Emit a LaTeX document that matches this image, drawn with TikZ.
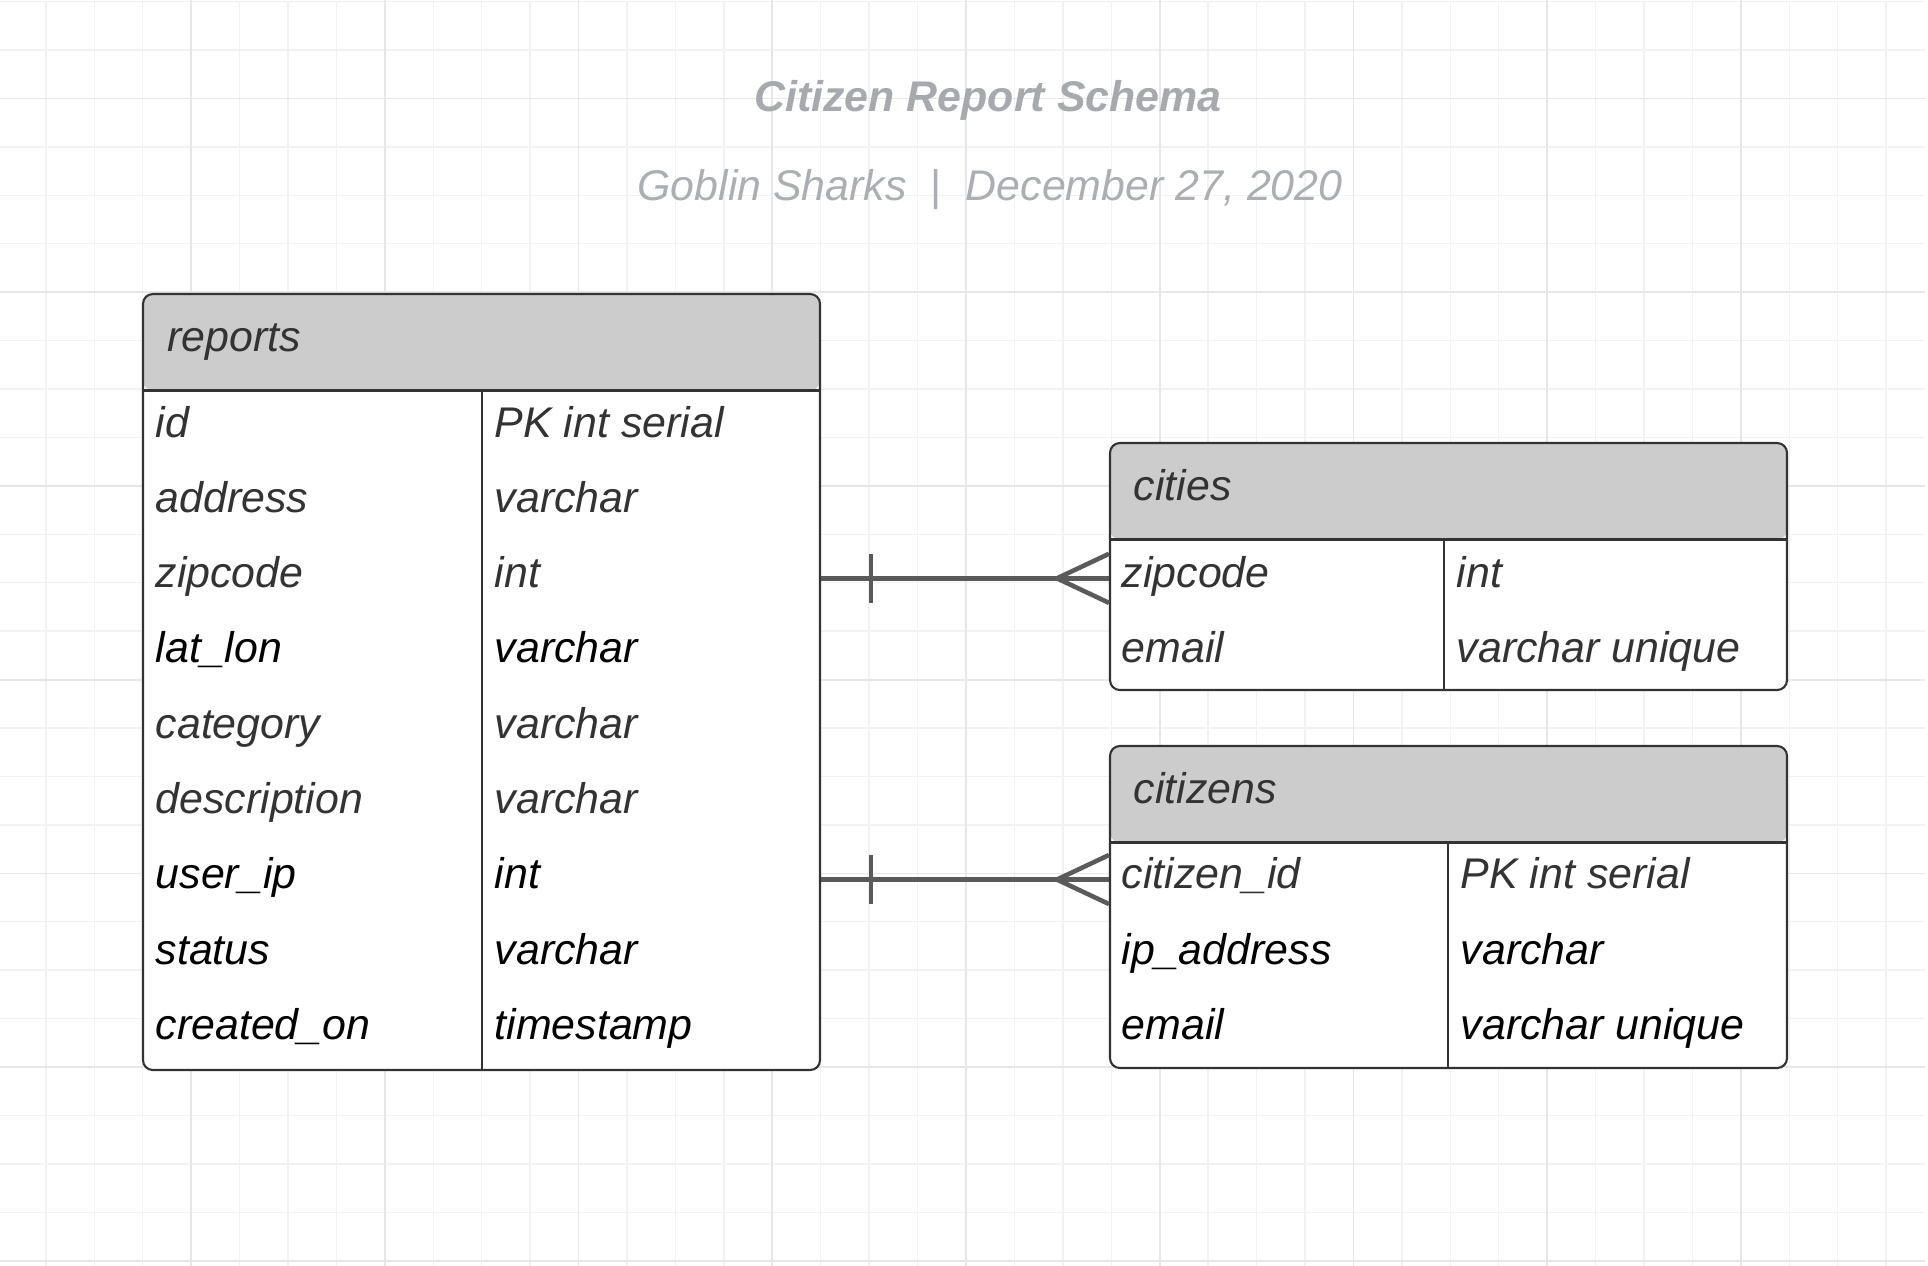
\documentclass[tikz,border=0pt]{standalone}
\usepackage{fontspec}
\setmainfont{Liberation Sans}
\usetikzlibrary{fit,calc}
\definecolor{gridminor}{HTML}{F2F2F2}
\definecolor{gridmajor}{HTML}{E7E7E7}
\definecolor{titlegray}{HTML}{A6A9AE}
\definecolor{subgray}{HTML}{ABAEB3}
\definecolor{hdrgray}{HTML}{CCCCCC}
\definecolor{tblline}{HTML}{333333}
\definecolor{txtgray}{HTML}{333333}
\definecolor{relgray}{HTML}{5A5A5A}

\begin{document}
\begin{tikzpicture}[x=0.01cm,y=-0.01cm,
  tabletext/.style={font=\fontsize{12.2}{14.6}\selectfont\itshape,inner sep=0pt,anchor=base west},
  fieldname/.style={tabletext,text=txtgray},
  fielddark/.style={tabletext,text=black},
  tablename/.style={tabletext,text=txtgray},
  tableframe/.style={draw=tblline,line width=0.6pt,rounded corners=2.8pt,fill=white,inner sep=0pt,
    path picture={\fill[hdrgray] (path picture bounding box.north west) rectangle ++(677,96.5);}},
  tblrule/.style={draw=tblline,line width=0.6pt},
  relline/.style={draw=relgray,line width=1.3pt}]
\useasboundingbox (0,0) rectangle (1928,1265);
            % Grid
\draw[gridminor,line width=0.4pt,step=0.484cm,shift={(-2.6,1.6)}] (0,1265) grid (1928,0);
\draw[gridmajor,line width=0.5pt,step=1.936cm,shift={(-2.6,98.5)}] (0,1265) grid (1928,-100);
            % Heading
\node[font=\fontsize{12.2}{14.6}\selectfont\bfseries\itshape,text=titlegray,anchor=base] (title) at (988,111.5) {Citizen Report Schema};
\node[font=\fontsize{12.2}{14.6}\selectfont\itshape,text=subgray,anchor=base] (subtitle) at (990,200.5) {Goblin Sharks~~{\upshape|}~~December 27, 2020};
            % Tables
\node[tableframe,fit={(143,294) (820,1070)}] (reports) {};
\draw[tblrule] (143,390.5) -- (820,390.5);
\draw[tblrule] (482,390.5) -- (482,1070);
\node[tableframe,fit={(1110,443) (1787,690)}] (cities) {};
\draw[tblrule] (1110,539.5) -- (1787,539.5);
\draw[tblrule] (1444,539.5) -- (1444,690);
\node[tableframe,fit={(1110,746) (1787,1068)}] (citizens) {};
\draw[tblrule] (1110,842.5) -- (1787,842.5);
\draw[tblrule] (1448,842.5) -- (1448,1068);
            % reports
\node[tablename] (rep-title) at (167,351) {reports};
\node[fieldname] (rep-id)          at (155,437.0)  {id};
\node[fieldname] (rep-id-t)        at (494,437.0)  {PK int serial};
\node[fieldname] (rep-address)     at (155,512.3)  {address};
\node[fieldname] (rep-address-t)   at (494,512.3)  {varchar};
\node[fieldname] (rep-zipcode)     at (155,587.6)  {zipcode};
\node[fieldname] (rep-zipcode-t)   at (494,587.6)  {int};
\node[fielddark] (rep-latlon)      at (155,662.9)  {lat\_lon};
\node[fielddark] (rep-latlon-t)    at (494,662.9)  {varchar};
\node[fieldname] (rep-category)    at (155,738.2)  {category};
\node[fieldname] (rep-category-t)  at (494,738.2)  {varchar};
\node[fieldname] (rep-descr)       at (155,813.5)  {description};
\node[fieldname] (rep-descr-t)     at (494,813.5)  {varchar};
\node[fielddark] (rep-userip)      at (155,888.8)  {user\_ip};
\node[fielddark] (rep-userip-t)    at (494,888.8)  {int};
\node[fielddark] (rep-status)      at (155,964.1)  {status};
\node[fielddark] (rep-status-t)    at (494,964.1)  {varchar};
\node[fielddark] (rep-created)     at (155,1039.4) {created\_on};
\node[fielddark] (rep-created-t)   at (494,1039.4) {timestamp};
            % cities
\node[tablename] (cty-title) at (1133,500) {cities};
\node[fieldname] (cty-zipcode)     at (1121,587.6) {zipcode};
\node[fieldname] (cty-zipcode-t)   at (1456,587.6) {int};
\node[fieldname] (cty-email)       at (1121,662.9) {email};
\node[fieldname] (cty-email-t)     at (1456,662.9) {varchar unique};
            % citizens
\node[tablename] (cit-title) at (1133,803) {citizens};
\node[fieldname] (cit-id)          at (1121,888.8)  {citizen\_id};
\node[fieldname] (cit-id-t)        at (1460,888.8)  {PK int serial};
\node[fielddark] (cit-ipaddr)      at (1121,964.1)  {ip\_address};
\node[fielddark] (cit-ipaddr-t)    at (1460,964.1)  {varchar};
\node[fielddark] (cit-email)       at (1121,1039.4) {email};
\node[fielddark] (cit-email-t)     at (1460,1039.4) {varchar unique};
            % Relations (one -- many)
\draw[relline] (rep-zipcode.mid -| reports.east) -- (cty-zipcode.mid -| cities.west);
\draw[relline] (rep-zipcode.mid -| reports.east) ++(50,-24.5) -- ++(0,49);
\draw[relline] (cty-zipcode.mid -| cities.west) ++(-52,0) -- ++(52,-24.5) ++(-52,24.5) -- ++(52,24.5);
\draw[relline] (rep-userip.mid -| reports.east) -- (cit-id.mid -| citizens.west);
\draw[relline] (rep-userip.mid -| reports.east) ++(50,-24.5) -- ++(0,49);
\draw[relline] (cit-id.mid -| citizens.west) ++(-52,0) -- ++(52,-24.5) ++(-52,24.5) -- ++(52,24.5);
\end{tikzpicture}
\end{document}
